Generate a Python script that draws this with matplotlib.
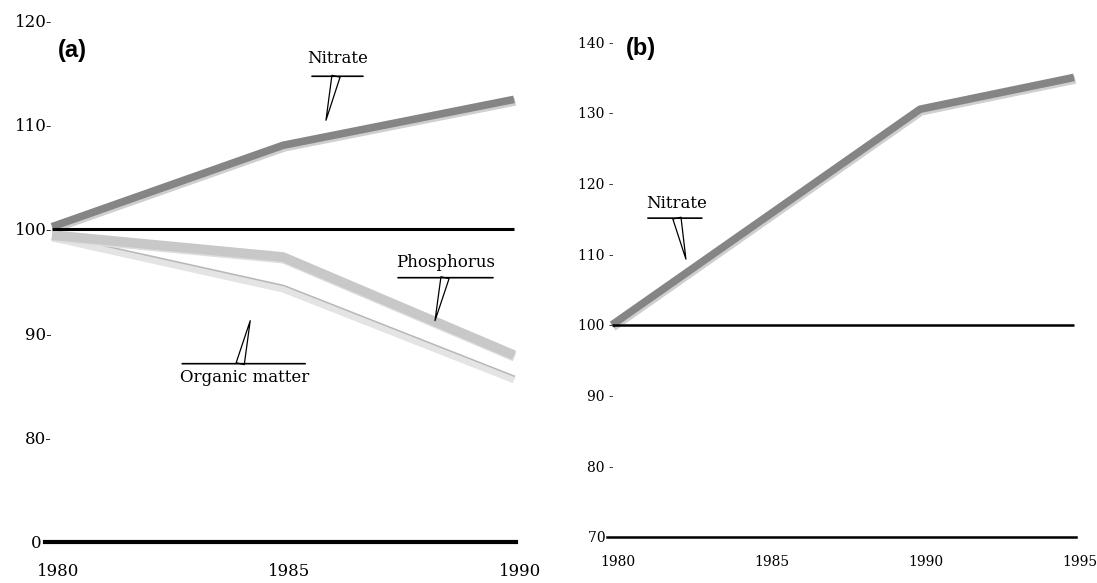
import matplotlib.pyplot as plt
import matplotlib.patheffects as pe
from matplotlib.transforms import offset_copy, ScaledTranslation

# DATA
years_a = [1980, 1985, 1990]
nitrate_a = [100.2, 108.0, 112.4]
phosphorus_a = [99.4, 97.3, 87.9]
organic_a = [99.1, 94.2, 85.5]

years_b = [1980, 1990, 1995]
nitrate_b = [100.0, 130.5, 135.0]

yticks_a = [70, 80, 90, 100, 110, 120]
ylabels_a = ['0  ', '80-', '90-', '100-', '110-', '120-']
xticks_a = [1980, 1985, 1990]

yticks_b = [70, 80, 90, 100, 110, 120, 130, 140]
ylabels_b = ['70  ', '80 -', '90 -', '100 -', '110 -', '120 -', '130 -', '140 -']
xticks_b = [1980, 1985, 1990, 1995]

# callout anchors (tip of the wedge, in data units)
tip_nitrate_a = (1985.93, 110.4)
tip_phos_a = (1988.29, 91.2)
tip_org_a = (1984.29, 91.2)
tip_nitrate_b = (1982.4, 109.3)

PX = 0.72  # points per pixel at dpi 100

fig = plt.figure(figsize=(10.97, 5.83), dpi=100)


def callout(ax, text, tip, base_dx, line_x0, line_x1, line_dy, text_dx, text_dy):
    # wedge from the underline to the tip
    ax.annotate('', xy=tip, xytext=(base_dx * PX, line_dy * PX), textcoords='offset points',
                arrowprops=dict(arrowstyle='wedge,tail_width=0.6,shrink_factor=0.5',
                                fc='white', ec='black', lw=0.9, shrinkA=0, shrinkB=0))
    # underline
    trans = offset_copy(ax.transData, fig=fig, x=line_x1 * PX, y=line_dy * PX, units='points')
    ax.annotate('', xy=tip, xycoords=trans, xytext=(-(line_x1 - line_x0) * PX, 0),
                textcoords='offset points',
                arrowprops=dict(arrowstyle='-', color='black', lw=1.2, shrinkA=0, shrinkB=0))
    ax.annotate(text, xy=tip, xytext=(text_dx * PX, text_dy * PX), textcoords='offset points',
                ha='center', va='center', family='DejaVu Serif', fontsize=12)


def style(ax, fs, xpad):
    for s in ax.spines.values():
        s.set_visible(False)
    ax.tick_params(length=0, labelsize=fs)
    ax.tick_params(axis='x', pad=xpad)
    ax.tick_params(axis='y', pad=-5)
    for lbl in ax.get_xticklabels() + ax.get_yticklabels():
        lbl.set_family('DejaVu Serif')
    for lbl in ax.get_xticklabels():
        lbl.set_transform(lbl.get_transform() + ScaledTranslation(6 / 100, 0, fig.dpi_scale_trans))


# ---- panel (a)
ax1 = fig.add_axes([45 / 1097, 41 / 583, 471 / 1097, 532.4 / 583])
ax1.set_xlim(1979.848, 1990.043)
ax1.set_ylim(70, 121)

ax1.plot(years_a, organic_a, color='#e4e4e4', lw=4.5, solid_capstyle='butt', zorder=2,
         path_effects=[pe.Stroke(linewidth=5.2, foreground='#b8b8b8', offset=(0, 0.8)),
                       pe.Normal()])
ax1.plot(years_a, phosphorus_a, color='#c8c8c8', lw=7, solid_capstyle='butt', zorder=2.5,
         path_effects=[pe.Stroke(linewidth=7, foreground='#dedede', offset=(0.5, -1.2)),
                       pe.Normal()])
ax1.plot(years_a, nitrate_a, color='#858585', lw=5.5, solid_capstyle='butt', zorder=3,
         path_effects=[pe.Stroke(linewidth=5.5, foreground='#cfcfcf', offset=(1, -1.8)),
                       pe.Normal()])

ax1.hlines(100, 1980, 1990, color='black', lw=2.2, zorder=5)
ax1.axhline(70, color='black', lw=3, zorder=5, clip_on=False)

ax1.set_xticks(xticks_a)
ax1.set_xticklabels([str(y) for y in xticks_a])
ax1.set_yticks(yticks_a)
ax1.set_yticklabels(ylabels_a)
style(ax1, 12, 15)

callout(ax1, 'Nitrate', tip_nitrate_a, 10, -14, 37, 44, 12, 62)
callout(ax1, 'Phosphorus', tip_phos_a, 10, -37, 58, 43, 11, 58)
callout(ax1, 'Organic matter', tip_org_a, -10, -68, 55, -43, -6, -57)

# ---- panel (b)
ax2 = fig.add_axes([607 / 1097, 46 / 583, 469 / 1097, 502 / 583])
ax2.set_xlim(1979.838, 1995.065)
ax2.set_ylim(70, 141)

ax2.plot(years_b, nitrate_b, color='#858585', lw=5.5, solid_capstyle='butt', zorder=3,
         path_effects=[pe.Stroke(linewidth=5.5, foreground='#cfcfcf', offset=(1, -1.8)),
                       pe.Normal()])
ax2.hlines(100, 1980, 1995, color='black', lw=1.8, zorder=5)
ax2.axhline(70, color='black', lw=1.8, zorder=5, clip_on=False)

ax2.set_xticks(xticks_b)
ax2.set_xticklabels([str(y) for y in xticks_b])
ax2.set_yticks(yticks_b)
ax2.set_yticklabels(ylabels_b)
style(ax2, 10, 13)

callout(ax2, 'Nitrate', tip_nitrate_b, -9, -38, 16, 41, -9, 56)

fig.text(72 / 1097, 1 - 50 / 583, '(a)', ha='center', va='center',
         family='Liberation Sans', weight='bold', fontsize=17)
fig.text(641 / 1097, 1 - 48 / 583, '(b)', ha='center', va='center',
         family='Liberation Sans', weight='bold', fontsize=17)

fig.savefig('out.png', dpi=100, facecolor='white')
